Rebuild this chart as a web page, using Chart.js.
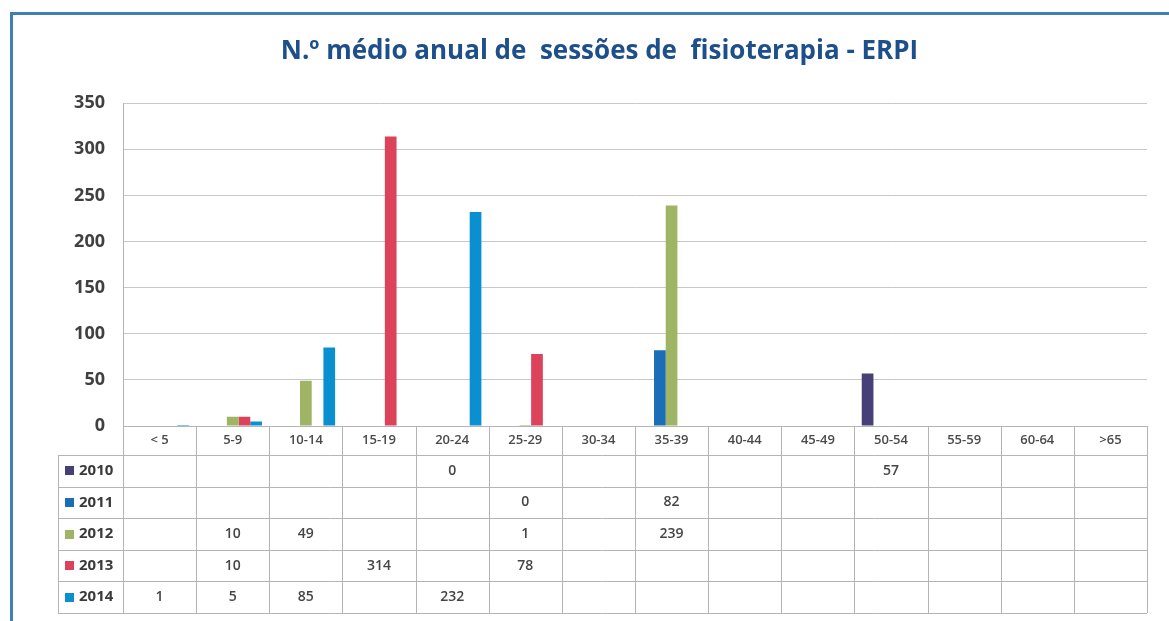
<!DOCTYPE html>
<html>
<head>
<meta charset="utf-8">
<script src="https://cdn.jsdelivr.net/npm/chart.js@4/dist/chart.umd.min.js"></script>
<style>
  body { margin: 0; background: #fff; overflow: hidden; }
  #wrap { position: relative; width: 1169px; height: 621px; }
  #frame { position: absolute; left: 10px; top: 12px; width: 1200px; height: 700px;
           border: 3px solid #3f80b2; box-sizing: border-box; }
  canvas { position: absolute; left: 0; top: 0; }
</style>
</head>
<body>
<div id="wrap">
  <div id="frame"></div>
  <canvas id="bar_Chart" width="1169" height="621"></canvas>
</div>
<script>
// faixas etárias
const categorias = ['< 5', '5-9', '10-14', '15-19', '20-24', '25-29', '30-34', '35-39', '40-44', '45-49', '50-54', '55-59', '60-64', '>65'];
const anos = ['2010', '2011', '2012', '2013', '2014'];
const cores = ['#463f78', '#1b6db5', '#9fb465', '#dc4259', '#0a8fd0'];

// valores por ano (null = célula vazia na tabela)
const v2010 = [null, null, null, null, 0, null, null, null, null, null, 57, null, null, null];
const v2011 = [null, null, null, null, null, 0, null, 82, null, null, null, null, null, null];
const v2012 = [null, 10, 49, null, null, 1, null, 239, null, null, null, null, null, null];
const v2013 = [null, 10, null, 314, null, 78, null, null, null, null, null, null, null, null];
const v2014 = [1, 5, 85, null, 232, null, null, null, null, null, null, null, null, null];
const series = [v2010, v2011, v2012, v2013, v2014];

const yTicks = [0, 50, 100, 150, 200, 250, 300, 350];

const tableLeft = 58;
const rowH = 31.6;

// tabela de dados por baixo do eixo x
const dataTable = {
  id: 'dataTable',
  afterDraw(chart) {
    const ctx = chart.ctx;
    const x = chart.scales.x;
    const area = chart.chartArea;
    const n = categorias.length;
    const catW = (area.right - area.left) / n;
    const top = x.bottom;
    const bottom = top + rowH * anos.length;

    ctx.save();
    ctx.strokeStyle = '#b4b4b4';
    ctx.lineWidth = 1;
    ctx.beginPath();
    // linhas verticais
    for (let i = 0; i <= n; i++) {
      const px = Math.round(area.left + i * catW) + 0.5;
      ctx.moveTo(px, area.bottom);
      ctx.lineTo(px, bottom);
    }
    ctx.moveTo(tableLeft + 0.5, top);
    ctx.lineTo(tableLeft + 0.5, bottom);
    // linhas horizontais
    for (let r = 0; r <= anos.length; r++) {
      const py = Math.round(top + r * rowH) + 0.5;
      ctx.moveTo(tableLeft, py);
      ctx.lineTo(area.right, py);
    }
    ctx.stroke();

    // legenda + valores
    ctx.textBaseline = 'middle';
    anos.forEach((ano, r) => {
      const cy = top + r * rowH + rowH / 2;
      ctx.fillStyle = cores[r];
      ctx.fillRect(65, Math.round(cy - 4.5), 9, 9);
      ctx.fillStyle = '#3a3a3a';
      ctx.font = 'bold 15px "Open Sans"';
      ctx.textAlign = 'left';
      ctx.fillText(ano, 79, cy);

      ctx.font = '600 14px "Open Sans"';
      ctx.fillStyle = '#454545';
      ctx.textAlign = 'center';
      series[r].forEach((val, i) => {
        if (val === null) return;
        ctx.fillText(String(val), x.getPixelForValue(i), cy);
      });
    });
    ctx.restore();
  }
};

const ctx_bar = document.getElementById('bar_Chart').getContext('2d');
const myChartBar = new Chart(ctx_bar, {
  type: 'bar',
  data: {
    labels: categorias,
    datasets: anos.map((ano, k) => ({
      label: ano,
      data: series[k],
      backgroundColor: cores[k],
      borderWidth: 0,
      categoryPercentage: 0.8,
      barPercentage: 1.0
    }))
  },
  options: {
    responsive: false,
    animation: false,
    layout: { padding: { left: 52, right: 22, top: 0, bottom: 166 } },
    plugins: {
      legend: { display: false },
      tooltip: { enabled: false },
      title: {
        display: true,
        text: 'N.º médio anual de  sessões de  fisioterapia - ERPI',
        color: '#1d4f8a',
        font: { family: 'Open Sans', size: 26, weight: 'bold' },
        padding: { top: 36, bottom: 36 }
      }
    },
    scales: {
      x: {
        grid: { display: false, drawTicks: false },
        border: { display: true, color: '#b4b4b4' },
        ticks: {
          color: '#4a4a4a',
          font: { family: 'Open Sans', size: 13, weight: '600' },
          padding: 6,
          maxRotation: 0,
          autoSkip: false
        },
        afterFit(scale) { scale.height = 29; }
      },
      y: {
        min: 0,
        max: 350,
        afterBuildTicks(scale) { scale.ticks = yTicks.map(v => ({ value: v })); },
        grid: { color: '#c8c8c8', drawTicks: false },
        border: { display: true, color: '#b4b4b4' },
        ticks: {
          color: '#404040',
          font: { family: 'Open Sans', size: 18, weight: 'bold' },
          padding: 18
        },
        afterFit(scale) { scale.width = 71; }
      }
    }
  },
  plugins: [dataTable]
});
</script>
</body>
</html>
